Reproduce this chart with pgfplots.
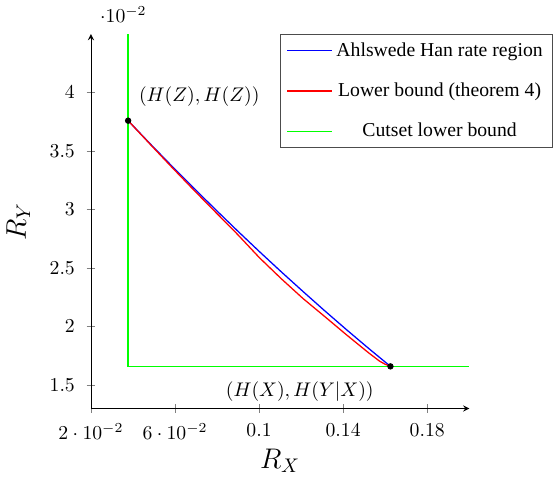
\documentclass[border=0pt]{standalone}
\usepackage{fontspec}
\setmainfont{Liberation Serif}
\usepackage{pgfplots}
\pgfplotsset{compat=1.18}
\begin{document}
\begin{tikzpicture}
\begin{axis}[
    scale only axis,
    width=192pt, height=190pt,
    axis lines=left,
    tick align=center,
    xmin=0.02, xmax=0.2,
    ymin=0.013, ymax=0.045,
    xtick={0.02,0.06,0.1,0.14,0.18},
    ytick={0.015,0.02,0.025,0.03,0.035,0.04},
    xticklabel shift=2pt, yticklabel shift=2.5pt,
    every y tick scale label/.style={at={(rel axis cs:0,1)}, anchor=south west,
        xshift=1.2pt, yshift=2.3pt},
    xlabel={$R_X$}, ylabel={$R_Y$},
    label style={font=\Large},
    xlabel style={yshift=2pt},
    ylabel style={yshift=3pt},
    legend cell align=center,
    legend style={at={(0.5,1)}, anchor=north west, row sep=8pt,
        font=\normalsize, draw=black!70},
    legend image code/.code={\draw[#1] (0cm,0cm) -- (0.8cm,0cm);},
]
% Ahlswede-Han region
\addplot[blue, line width=0.65pt] coordinates {
 (0.0377,0.0376) (0.0481,0.03564) (0.0585,0.03372) (0.0689,0.03184)
 (0.0793,0.03000) (0.0897,0.02819) (0.1001,0.02642) (0.1105,0.02469)
 (0.1209,0.02300) (0.1313,0.02134) (0.1417,0.01972) (0.1521,0.01814)
 (0.1625,0.0166)};
\addlegendentry{Ahlswede Han rate region}
% lower bound (theorem 4)
\addplot[red, line width=0.65pt] coordinates {
 (0.0377,0.0376) (0.0481,0.03560) (0.0585,0.03362) (0.0689,0.03168)
 (0.0793,0.02978) (0.0897,0.02789) (0.1001,0.02590) (0.1105,0.02410)
 (0.1209,0.02240) (0.1313,0.02085) (0.1417,0.01928) (0.1521,0.01776)
 (0.1573,0.01705) (0.1600,0.01678) (0.1625,0.0166)};
\addlegendentry{Lower bound (theorem 4)}
% cutset
\addplot[green, line width=0.65pt] coordinates {
 (0.0377,0.045) (0.0377,0.0166) (0.2,0.0166)};
\addlegendentry{Cutset lower bound}
\addplot[only marks, mark=*, mark size=1.4pt, black, forget plot] coordinates {
 (0.0377,0.0376) (0.1625,0.0166)};
\node[above right, xshift=2pt, yshift=3.5pt] at (axis cs:0.0377,0.0376) {$(H(Z),H(Z))$};
\node[below left, xshift=-5pt, yshift=-4.5pt] at (axis cs:0.1625,0.0166) {$(H(X),H(Y|X))$};
\end{axis}
\end{tikzpicture}
\end{document}
